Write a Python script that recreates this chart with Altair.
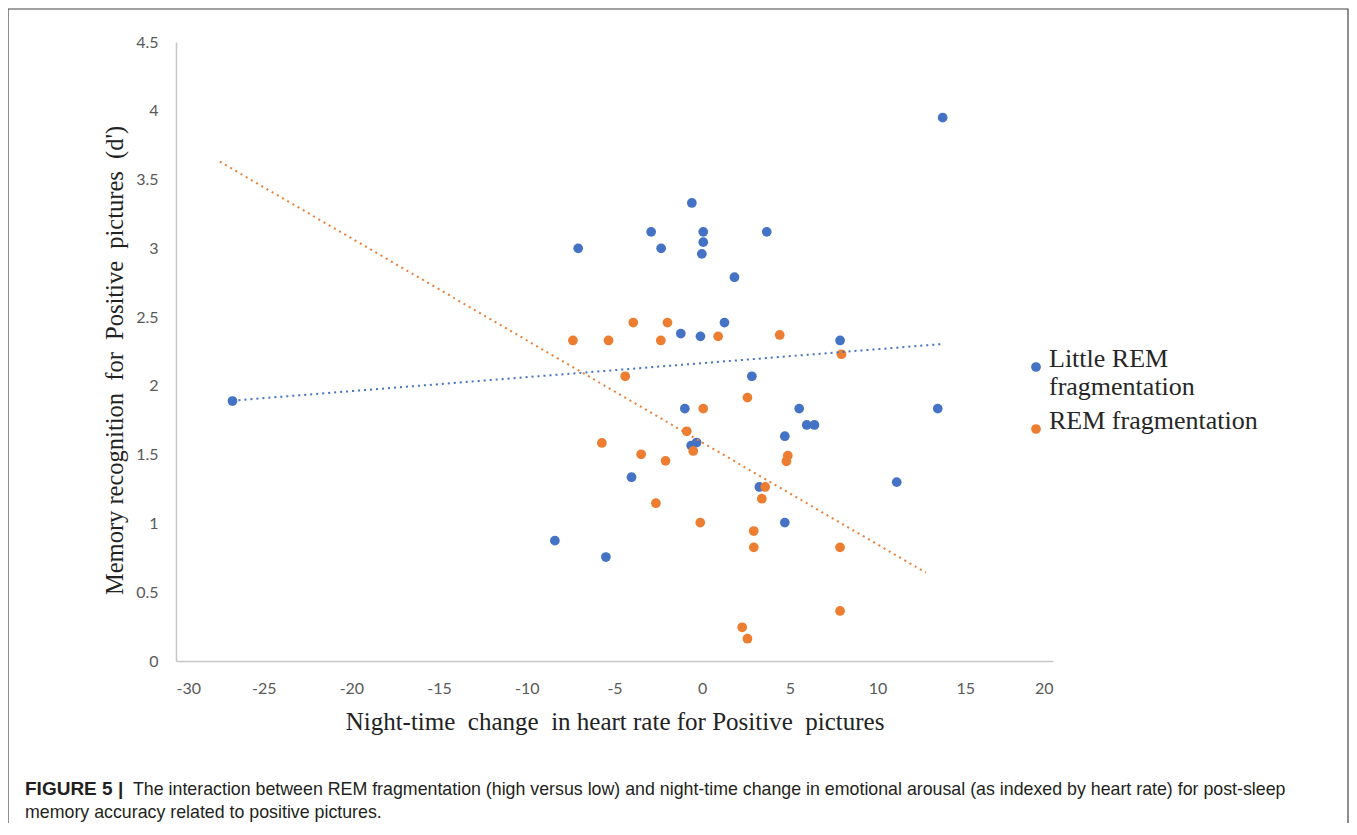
import altair as alt
import pandas as pd

series_names = ["Little REM fragmentation", "REM fragmentation"]
series_colors = ["#4472C4", "#ED7D31"]

blue_x = [-26.78, -8.40, -7.07, -5.49, -4.03, -2.91, -2.34, -1.22, -0.99, -0.63,
          -0.59, -0.32, -0.10, -0.02, 0.06, 0.06, 1.27, 1.84, 2.83, 3.26,
          3.68, 4.71, 4.71, 5.53, 5.96, 6.40, 7.86, 11.09, 13.43, 13.71]
blue_y = [1.89, 0.875, 3.0, 0.756, 1.336, 3.12, 3.0, 2.38, 1.835, 1.566,
          3.33, 1.588, 2.36, 2.96, 3.045, 3.12, 2.46, 2.79, 2.07, 1.265,
          3.12, 1.634, 1.006, 1.835, 1.716, 1.716, 2.33, 1.30, 1.835, 3.95]

orange_x = [-7.37, -5.72, -5.34, -4.39, -3.93, -3.48, -2.64, -2.36, -2.09, -1.98,
            -0.88, -0.51, -0.11, 0.06, 0.91, 2.28, 2.58, 2.58, 2.94, 2.94,
            3.40, 3.59, 4.42, 4.80, 4.88, 7.86, 7.86, 7.94]
orange_y = [2.33, 1.585, 2.33, 2.07, 2.46, 1.503, 1.147, 2.33, 1.455, 2.46,
            1.67, 1.527, 1.006, 1.835, 2.36, 0.245, 1.915, 0.162, 0.945, 0.826,
            1.18, 1.265, 2.37, 1.452, 1.493, 0.826, 0.364, 2.23]

trend_blue_x = [-26.78, 13.75]
trend_blue_y = [1.893, 2.305]
trend_orange_x = [-27.5, 12.76]
trend_orange_y = [3.63, 0.642]

x_ticks = [-30, -25, -20, -15, -10, -5, 0, 5, 10, 15, 20]
y_ticks = [0, 0.5, 1, 1.5, 2, 2.5, 3, 3.5, 4, 4.5]

NB = "\u00a0"
x_title = f"Night-time{NB} change{NB} in heart rate for Positive{NB} pictures"
y_title = f"Memory recognition{NB} for{NB} Positive{NB} pictures{NB} (d')"
caption_bold = "FIGURE 5 |"
caption_line1 = ("The interaction between REM fragmentation (high versus low) and night-time change "
                 "in emotional arousal (as indexed by heart rate) for post-sleep")
caption_line2 = "memory accuracy related to positive pictures."

points = pd.DataFrame({
    "x": blue_x + orange_x,
    "y": blue_y + orange_y,
    "series": [series_names[0]] * len(blue_x) + [series_names[1]] * len(orange_x),
})
trends = pd.DataFrame({
    "x": trend_blue_x + trend_orange_x,
    "y": trend_blue_y + trend_orange_y,
    "series": [series_names[0]] * 2 + [series_names[1]] * 2,
})
dummy = pd.DataFrame({"a": [0]})

x_enc = alt.X("x:Q",
              scale=alt.Scale(domain=[-30, 20], nice=False, zero=False),
              axis=alt.Axis(values=x_ticks, title=x_title, grid=False, ticks=False, tickSize=0,
                            labelExpr="datum.value + ''", labelFont="Lato", labelFontSize=16,
                            labelColor="#595959", labelPadding=27, labelBaseline="middle",
                            domainColor="#c8c8c8", domainWidth=1.5,
                            titleFont="Liberation Serif", titleFontSize=25, titleFontWeight="normal",
                            titleColor="#222222", titleY=68, titleBaseline="alphabetic"))
y_enc = alt.Y("y:Q",
              scale=alt.Scale(domain=[0, 4.5], nice=False, zero=False),
              axis=alt.Axis(values=y_ticks, title=y_title, grid=False, ticks=False, tickSize=0,
                            labelExpr="datum.value + ''", labelFont="Lato", labelFontSize=16,
                            labelColor="#595959", labelPadding=18,
                            domainColor="#c8c8c8", domainWidth=1.5,
                            titleFont="Liberation Serif", titleFontSize=24.5, titleFontWeight="normal",
                            titleColor="#222222", titleX=-54, titleY=318, titleAngle=270,
                            titleBaseline="alphabetic", titleAlign="center"))

frame = alt.Chart(dummy).mark_rect(filled=False, stroke="#444444", strokeWidth=1.2).encode(
    x=alt.value(-168), x2=alt.value(1172), y=alt.value(-33), y2=alt.value(800))

cap_bold = alt.Chart(dummy).mark_text(
    align="left", baseline="alphabetic", font="Liberation Sans", fontSize=19,
    fontWeight="bold", color="#231f20").encode(
    x=alt.value(-151), y=alt.value(753), text=alt.value(caption_bold))
cap_1 = alt.Chart(dummy).mark_text(
    align="left", baseline="alphabetic", font="Liberation Sans", fontSize=17.8,
    color="#231f20").encode(
    x=alt.value(-43), y=alt.value(753), text=alt.value(caption_line1))
cap_2 = alt.Chart(dummy).mark_text(
    align="left", baseline="alphabetic", font="Liberation Sans", fontSize=17.8,
    color="#231f20").encode(
    x=alt.value(-151), y=alt.value(776), text=alt.value(caption_line2))

pts = alt.Chart(points).mark_circle(size=95, opacity=1).encode(
    x=x_enc, y=y_enc,
    color=alt.Color("series:N",
                    scale=alt.Scale(domain=series_names, range=series_colors),
                    legend=alt.Legend(
                        title=None, orient="none", legendX=837, legendY=312,
                        labelExpr="datum.label == 'Little REM fragmentation' ? ['Little REM', 'fragmentation'] : datum.label",
                        labelFont="Liberation Serif", labelFontSize=26, labelColor="#262626",
                        labelBaseline="alphabetic", labelLimit=400, labelOffset=0,
                        symbolOffset=10,
                        symbolType="circle", symbolSize=95, symbolStrokeWidth=0,
                        rowPadding=8, padding=0)),
)

lines = alt.Chart(trends).mark_line(strokeDash=[2, 4], strokeWidth=2).encode(
    x="x:Q", y="y:Q",
    stroke=alt.Stroke("series:N",
                      scale=alt.Scale(domain=series_names, range=series_colors),
                      legend=None),
)

chart = alt.layer(frame, cap_bold, cap_1, cap_2, pts, lines).properties(
    width=877, height=619,
    background="white",
    autosize=alt.AutoSizeParams(type="none"),
    padding={"left": 168, "top": 34, "right": 296, "bottom": 162},
).configure_view(strokeWidth=0, stroke="transparent")

chart.save("out.html", embed_options={"renderer": "svg", "actions": False})
